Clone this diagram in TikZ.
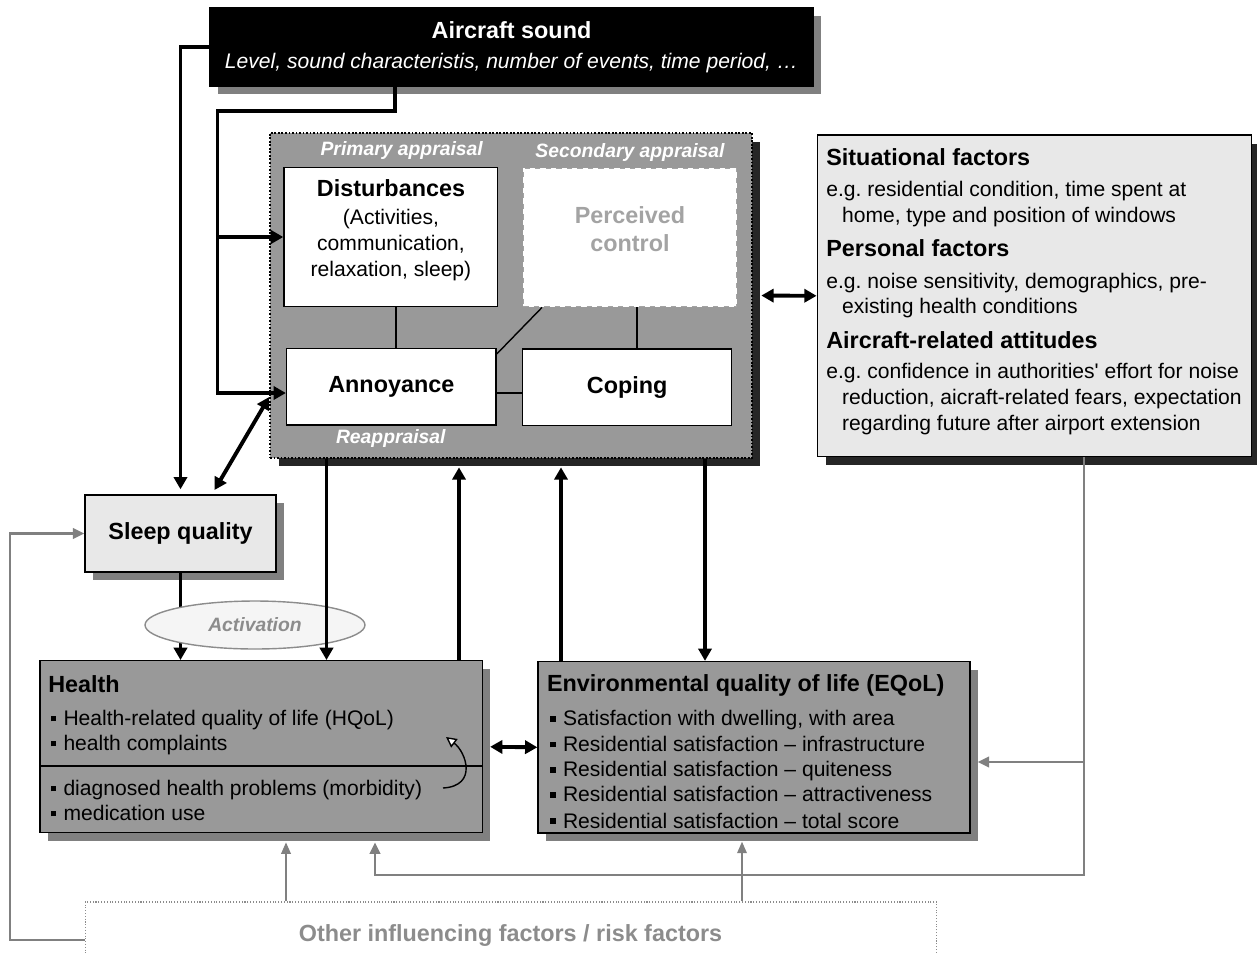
\documentclass[tikz,border=0pt]{standalone}
\usepackage{fontspec}
\setmainfont{Liberation Sans}
\usetikzlibrary{arrows.meta,shapes.geometric,shadows}
\definecolor{boxgray}{HTML}{999999}
\definecolor{lightbox}{HTML}{E8E8E8}
\definecolor{shadegray}{HTML}{808080}
\definecolor{shadowdark}{HTML}{262626}
\definecolor{fadetext}{HTML}{8C8C8C}
\definecolor{ctrlgray}{HTML}{A3A3A3}
\newcommand{\hd}{\bfseries\fontsize{13.3}{16}\selectfont}
\newcommand{\sm}{\bfseries\itshape\fontsize{11}{13}\selectfont}
\newcommand{\sqb}{\rule[2.4pt]{3.2pt}{3.2pt}\hspace{4pt}}
\frenchspacing
\begin{document}
\begin{tikzpicture}[x=0.02cm,y=-0.02cm]
  \tikzstyle{every node}=[inner sep=0pt,font=\fontsize{12}{14.4}\selectfont]
  \tikzstyle{box}=[draw=black,line width=0.8pt,rectangle]
  \tikzstyle{softshadow}=[general shadow={shadow xshift=0.16cm,shadow yshift=-0.16cm,fill=shadegray}]
  \tikzstyle{hardshadow}=[general shadow={shadow xshift=0.17cm,shadow yshift=-0.17cm,fill=shadowdark}]
  \tikzstyle{blk}=[line width=2.2pt,-{Triangle[length=7pt,width=7.5pt]}]
  \tikzstyle{blkboth}=[line width=2.2pt,{Triangle[length=7pt,width=7.5pt]}-{Triangle[length=7pt,width=7.5pt]}]
  \tikzstyle{gry}=[draw=shadegray,line width=1.2pt,-{Triangle[length=6.5pt,width=6pt]}]
  \tikzstyle{grythin}=[draw=shadegray,line width=0.8pt,-{Triangle[length=6.5pt,width=5.5pt]}]
  \useasboundingbox (0,0) rectangle (1257,954);

  % source
  \node[box,softshadow,fill=black,text=white,align=center,minimum width=12.06cm,minimum height=1.56cm] (sound) at (511.5,47)
    {{\hd Aircraft sound}\\[2.6pt]\itshape Level, sound characteristis, number of events, time period, …};

  % appraisal block
  \node[hardshadow,fill=boxgray,draw=black,densely dotted,line width=1pt,minimum width=9.64cm,minimum height=6.5cm] (appr) at (511,295.5) {};
  \node[box,fill=white,minimum width=4.27cm,minimum height=2.79cm] (disturb) at (390.7,237) {};
  \node[fill=white,draw=ctrlgray,dashed,line width=0.8pt,minimum width=4.27cm,minimum height=2.77cm] (control) at (630,237.5) {};
  \node[box,fill=white,minimum width=4.19cm,minimum height=1.53cm,font=\hd] (annoy) at (391.3,386.7) {Annoyance};
  \node[box,fill=white,minimum width=4.18cm,minimum height=1.53cm,font=\hd] (coping) at (627.2,387.3) {Coping};
  \node[align=center] (disttxt) at (391,230) {{\hd Disturbances}\\[1.5pt](Activities,\\[0.5pt]communication,\\[0.5pt]relaxation, sleep)};
  \node[align=center,text=ctrlgray,font=\hd] (ctrltxt) at (630,229) {Perceived\\control};
  \node[text=white,font=\sm] (prim) at (401.7,150.7) {Primary appraisal};
  \node[text=white,font=\sm] (second) at (630,152.7) {Secondary appraisal};
  \node[text=white,font=\sm] (reapp) at (390.8,438) {Reappraisal};
  \draw[line width=0.8pt] (disturb.south -| 396,0) -- (annoy.north -| 396,0);
  \draw[line width=0.8pt] (control.south -| 637,0) -- (coping.north -| 637,0);
  \draw[line width=0.8pt] (control.south -| 542,0) -- (annoy.east |- 0,354);
  \draw[line width=0.8pt] (annoy.east |- 0,393) -- (coping.west |- 0,393);

  % moderators
  \node[box,hardshadow,fill=lightbox,minimum width=8.69cm,minimum height=6.43cm] (factors) at (1034.5,295.8) {};
  \foreach \x/\y/\t [count=\i] in {826/165.7/{\hd Situational factors},
      826/196.8/{e.g. residential condition, time spent at},
      841.7/222.5/{home, type and position of windows},
      826/256.7/{\hd Personal factors},
      826/288.2/{e.g. noise sensitivity, demographics, pre-},
      841.7/313.2/{existing health conditions},
      826/348.4/{\hd Aircraft-related attitudes},
      826/378.2/{e.g. confidence in authorities\textquotesingle\ effort for noise},
      841.7/404.2/{reduction, aicraft-related fears, expectation},
      841.7/430.2/{regarding future after airport extension}}
    \node[anchor=base west] (fac\i) at (\x,\y) {\t};

  % outcomes
  \node[box,softshadow,fill=lightbox,minimum width=3.82cm,minimum height=1.54cm,font=\hd] (sleep) at (180.5,533.5) {Sleep quality};
  \node[box,softshadow,fill=boxgray,minimum width=8.85cm,minimum height=3.44cm] (health) at (261.2,746.7) {};
  \draw[line width=0.8pt] (health.west |- 0,766) -- (health.east |- 0,766);
  \node[anchor=base west,font=\hd] (hl0) at (48,692) {Health};
  \foreach \y/\t [count=\i] in {725.5/{Health-related quality of life (HQoL)},
      750.5/{health complaints},
      795.5/{diagnosed health problems (morbidity)},
      820.5/{medication use}}
    \node[anchor=base west] (hl\i) at (50.5,\y) {\sqb\t};
  \coordinate (morb) at (443,788);
  \coordinate (hqol) at (446,737);
  \draw[line width=0.8pt,-{Triangle[fill=white,length=6pt,width=6pt]}] (morb) .. controls (478,786) and (466,752) .. (hqol);

  \node[box,softshadow,fill=boxgray,minimum width=8.64cm,minimum height=3.43cm] (eqol) at (754,747.3) {};
  \node[anchor=base west,font=\hd] (eq0) at (546.7,691.5) {Environmental quality of life (EQoL)};
  \foreach \y/\t [count=\i] in {725.8/{Satisfaction with dwelling, with area},
      751.5/{Residential satisfaction – infrastructure},
      776.8/{Residential satisfaction – quiteness},
      801.8/{Residential satisfaction – attractiveness},
      828/{Residential satisfaction – total score}}
    \node[anchor=base west] (eq\i) at (550,\y) {\sqb\t};

  \node[draw=fadetext,densely dotted,line width=0.6pt,minimum width=17.04cm,minimum height=1.52cm] (other) at (511,940) {};
  \node[text=fadetext,font=\hd] (othertxt) at (510.5,935) {Other influencing factors / risk factors};

  % black paths
  \coordinate (fork) at (217.5,111);
  \draw[blk,shorten >=0.1cm] (sound.west) -| (sleep.north);
  \draw[blk] (sound.south -| 395,0) |- (fork) |- (annoy.west |- 0,393);
  \draw[blk] (fork |- disturb.west) -- (disturb.west);
  \draw[blkboth,shorten >=0.1cm] (appr.west |- 0,397) -- (sleep.north -| 212,0);
  \draw[blk] (sleep.south) -- (health.north -| sleep.south);
  \node[ellipse,draw=fadetext,fill=white!96!black,line width=0.8pt,minimum width=4.4cm,minimum height=0.96cm,text=fadetext,font=\sm] (activ) at (255,625) {Activation};
  \draw[blk] (appr.south -| 326.5,0) -- (health.north -| 326.5,0);
  \draw[blk,shorten >=0.17cm] (health.north -| 459,0) -- (appr.south -| 459,0);
  \draw[blk,shorten >=0.17cm] (eqol.north -| 561,0) -- (appr.south -| 561,0);
  \draw[blk] (appr.south -| 705,0) -- (eqol.north -| 705,0);
  \draw[blkboth,shorten <=0.17cm] (appr.east) -- (factors.west);
  \draw[blkboth,shorten <=0.14cm] (health.east) -- (eqol.west);

  % gray paths
  \coordinate (gfork) at (1084,762);
  \draw[gry,shorten >=0.18cm] (factors.south -| gfork) |- (375,875) -- (health.south -| 375,0);
  \draw[gry,shorten >=0.14cm] (gfork) -- (eqol.east |- gfork);
  \draw[grythin,shorten >=0.18cm] (other.north -| 286,0) -- (health.south -| 286,0);
  \draw[grythin,shorten >=0.16cm] (other.north -| 742,0) -- (eqol.south -| 742,0);
  \draw[gry] (other.west) -- ++(-75,0) |- (sleep.west);
\end{tikzpicture}
\end{document}
